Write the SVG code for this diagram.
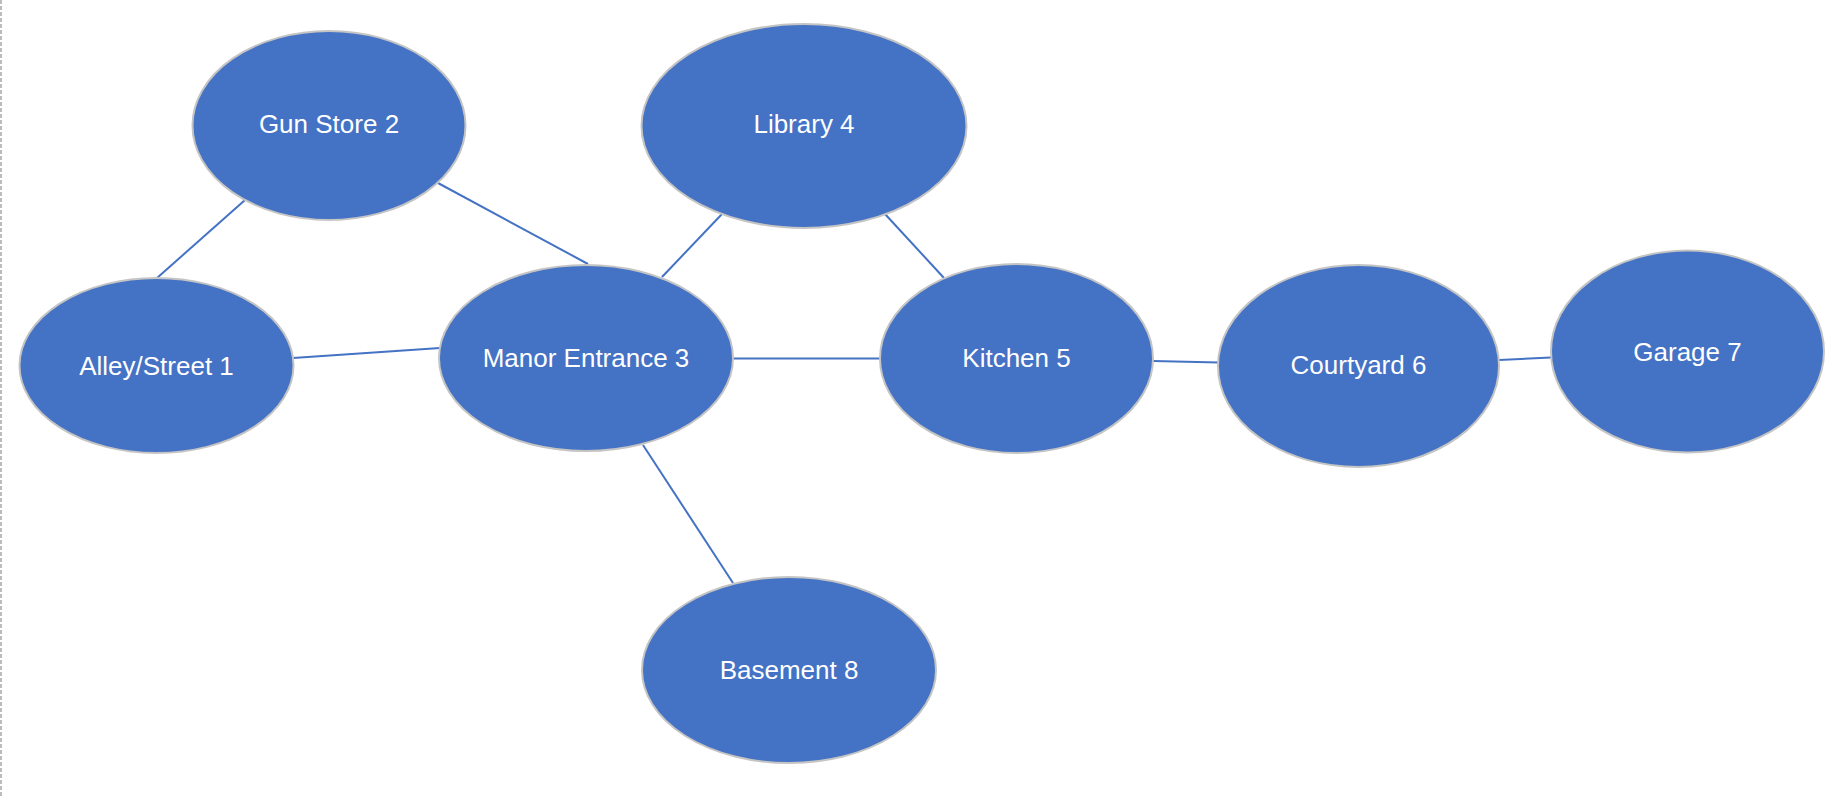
<svg xmlns="http://www.w3.org/2000/svg" width="1833" height="797" viewBox="0 0 1833 797">
<style>
.node ellipse{fill:#4472C4;stroke:#c4c4c4;stroke-width:2}
.node text{fill:#ffffff;font-family:"Liberation Sans",Arial,sans-serif;font-size:26px;text-anchor:middle}
#connectors line{stroke:#4472C4;stroke-width:2}
</style>
<rect width="1833" height="797" fill="#ffffff"/>
<line x1="1" y1="0" x2="1" y2="797" stroke="#a6a6a6" stroke-width="1.5" stroke-dasharray="4 2"/>
<g id="connectors">
<line x1="157" y1="278" x2="245" y2="200"/>
<line x1="438" y1="183" x2="588" y2="264"/>
<line x1="293" y1="358" x2="440" y2="348"/>
<line x1="662" y1="277" x2="722" y2="214"/>
<line x1="885" y1="214" x2="944" y2="278"/>
<line x1="733" y1="358.5" x2="880" y2="358.5"/>
<line x1="1153" y1="361" x2="1219" y2="362.5"/>
<line x1="1499" y1="360" x2="1551" y2="357.5"/>
<line x1="643" y1="445" x2="733" y2="583"/>
</g>
<g id="node1" class="node"><ellipse cx="156.5" cy="365.5" rx="137" ry="87.5"/><text x="156.5" y="375">Alley/Street 1</text></g>
<g id="node2" class="node"><ellipse cx="329" cy="125.5" rx="136.5" ry="94.5"/><text x="329" y="133">Gun Store 2</text></g>
<g id="node3" class="node"><ellipse cx="586" cy="358" rx="147" ry="93"/><text x="586" y="367">Manor Entrance 3</text></g>
<g id="node4" class="node"><ellipse cx="804" cy="126" rx="162.5" ry="102"/><text x="804" y="133">Library 4</text></g>
<g id="node5" class="node"><ellipse cx="1016.5" cy="358.5" rx="136.5" ry="94.5"/><text x="1016.5" y="367">Kitchen 5</text></g>
<g id="node6" class="node"><ellipse cx="1358.5" cy="366" rx="140.5" ry="101"/><text x="1358.5" y="374">Courtyard 6</text></g>
<g id="node7" class="node"><ellipse cx="1687.5" cy="351.5" rx="136.5" ry="101"/><text x="1687.5" y="361">Garage 7</text></g>
<g id="node8" class="node"><ellipse cx="789" cy="670" rx="147" ry="93"/><text x="789" y="678.5">Basement 8</text></g>
</svg>
